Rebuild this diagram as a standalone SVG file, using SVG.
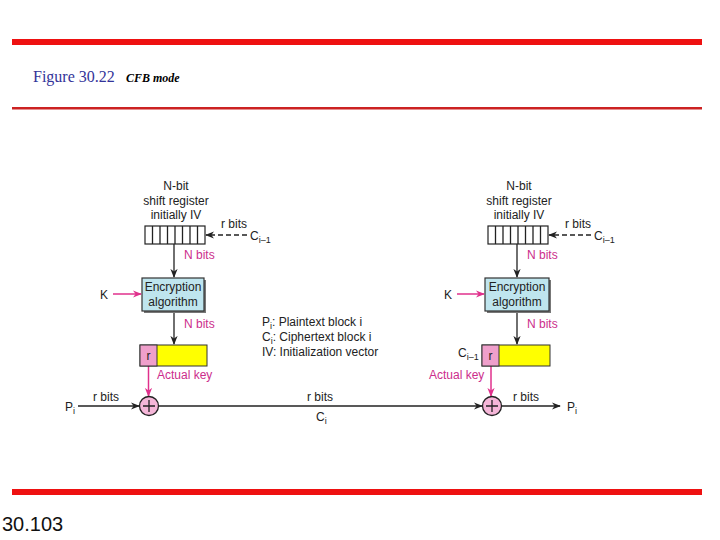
<svg xmlns="http://www.w3.org/2000/svg" width="720" height="540" viewBox="0 0 720 540">
<defs>
<style>
.t{font-family:"Liberation Sans",Arial,sans-serif;font-size:12px;fill:#222}
.m{font-family:"Liberation Sans",Arial,sans-serif;font-size:12px;fill:#cc2d8c}
.c{text-anchor:middle}
.ln{stroke:#222;stroke-width:1.3;fill:none}
.mg{stroke:#e0308c;stroke-width:1.5;fill:none}
.enc{fill:#bfe5ee;stroke:#333;stroke-width:1.2}
.reg{fill:#fff;stroke:#222;stroke-width:1.2}
.yel{fill:#ffff00;stroke:#333;stroke-width:1}
.pk{fill:#ef9fcb;stroke:#333;stroke-width:1}
.xor{fill:#f5b6d8;stroke:#222;stroke-width:1.3}
</style>
<marker id="ab" viewBox="0 0 10 10" refX="9" refY="5" markerWidth="9" markerHeight="9" markerUnits="userSpaceOnUse" orient="auto"><path d="M0,1 L10,5 L0,9 L3,5 z" fill="#222"/></marker>
<marker id="am" viewBox="0 0 10 10" refX="9" refY="5" markerWidth="9" markerHeight="9" markerUnits="userSpaceOnUse" orient="auto"><path d="M0,1 L10,5 L0,9 L3,5 z" fill="#e0308c"/></marker>
</defs>
<rect width="720" height="540" fill="#fff"/>
<g id="frame">
<rect x="12" y="39" width="690" height="6" fill="#ee1111"/>
<rect x="12" y="107" width="690" height="2.5" fill="#cc2222"/>
<rect x="12" y="489" width="690" height="6" fill="#ee1111"/>
<text x="33" y="82" font-family="Liberation Serif,serif" font-size="16" fill="#333399">Figure 30.22</text>
<text x="126" y="82" font-family="Liberation Serif,serif" font-size="12" font-weight="bold" font-style="italic" fill="#000">CFB mode</text>
<text x="2" y="531" font-family="Liberation Sans,Arial,sans-serif" font-size="20" fill="#111">30.103</text>
</g>
<g id="connectors">
<!-- left -->
<line class="ln" x1="247" y1="235" x2="206" y2="235" stroke-dasharray="5,3" marker-end="url(#ab)"/>
<line class="ln" x1="174" y1="244" x2="174" y2="277" marker-end="url(#ab)"/>
<line class="mg" x1="113" y1="294" x2="141" y2="294" marker-end="url(#am)"/>
<line class="ln" x1="174" y1="311" x2="174" y2="344" marker-end="url(#ab)"/>
<line class="mg" x1="148.5" y1="366" x2="148.5" y2="396" marker-end="url(#am)"/>
<line class="ln" x1="78" y1="406" x2="139" y2="406" marker-end="url(#ab)"/>
<line class="ln" x1="158" y1="406" x2="482" y2="406" marker-end="url(#ab)"/>
<!-- right -->
<line class="ln" x1="591" y1="235" x2="549" y2="235" stroke-dasharray="5,3" marker-end="url(#ab)"/>
<line class="ln" x1="517" y1="244" x2="517" y2="277" marker-end="url(#ab)"/>
<line class="mg" x1="457" y1="294" x2="484" y2="294" marker-end="url(#am)"/>
<line class="ln" x1="517" y1="311" x2="517" y2="344" marker-end="url(#ab)"/>
<line class="mg" x1="491" y1="366" x2="491" y2="396" marker-end="url(#am)"/>
<line class="ln" x1="501" y1="406" x2="560" y2="406" marker-end="url(#ab)"/>
</g>
<g id="left-register">
<text class="t c" x="176" y="190">N-bit</text>
<text class="t c" x="176" y="205">shift register</text>
<text class="t c" x="176" y="219">initially IV</text>
<rect class="reg" x="145" y="226" width="60" height="18"/>
<path class="ln" d="M152.5,226v18M160,226v18M167.5,226v18M175,226v18M182.5,226v18M190,226v18M197.5,226v18"/>
<text class="t" x="221" y="228">r bits</text>
<text class="t" x="250" y="240">C<tspan font-size="9" dy="3">i–1</tspan></text>
<text class="m" x="184" y="259">N bits</text>
</g>
<g id="left-encryption">
<rect x="144" y="280" width="62" height="33" fill="#777"/>
<rect class="enc" x="142" y="278" width="62" height="33"/>
<text class="t c" x="173" y="291">Encryption</text>
<text class="t c" x="173" y="306">algorithm</text>
<text class="t" x="100" y="299">K</text>
<text class="m" x="184" y="328">N bits</text>
</g>
<g id="left-keybox">
<rect class="yel" x="140" y="345" width="67" height="21"/>
<rect class="pk" x="140" y="345" width="17" height="21"/>
<text class="t c" x="148.5" y="360">r</text>
<text class="m" x="157" y="379">Actual key</text>
</g>
<g id="left-xor">
<circle class="xor" cx="149" cy="406" r="9.5"/>
<path class="ln" d="M143,406h12M149,400v12"/>
<text class="t" x="65" y="411">P<tspan font-size="9" dy="3">i</tspan></text>
<text class="t" x="93" y="401">r bits</text>
</g>
<g id="legend">
<text class="t" x="262" y="326">P<tspan font-size="9" dy="3">i</tspan><tspan dy="-3">: Plaintext block i</tspan></text>
<text class="t" x="262" y="341">C<tspan font-size="9" dy="3">i</tspan><tspan dy="-3">: Ciphertext block i</tspan></text>
<text class="t" x="262" y="356">IV: Initialization vector</text>
</g>
<g id="channel-label">
<text class="t c" x="320" y="401">r bits</text>
<text class="t" x="316" y="421">C<tspan font-size="9" dy="3">i</tspan></text>
</g>
<g id="right-register">
<text class="t c" x="519" y="190">N-bit</text>
<text class="t c" x="519" y="205">shift register</text>
<text class="t c" x="519" y="219">initially IV</text>
<rect class="reg" x="488" y="226" width="60" height="18"/>
<path class="ln" d="M495.5,226v18M503,226v18M510.5,226v18M518,226v18M525.5,226v18M533,226v18M540.5,226v18"/>
<text class="t" x="565" y="228">r bits</text>
<text class="t" x="594" y="240">C<tspan font-size="9" dy="3">i–1</tspan></text>
<text class="m" x="527" y="259">N bits</text>
</g>
<g id="right-encryption">
<rect x="487" y="280" width="64" height="33" fill="#777"/>
<rect class="enc" x="485" y="278" width="64" height="33"/>
<text class="t c" x="517" y="291">Encryption</text>
<text class="t c" x="517" y="306">algorithm</text>
<text class="t" x="444" y="299">K</text>
<text class="m" x="527" y="328">N bits</text>
</g>
<g id="right-keybox">
<rect class="yel" x="482" y="345" width="68" height="21"/>
<rect class="pk" x="482" y="345" width="17" height="21"/>
<text class="t c" x="490.5" y="360">r</text>
<text class="t" x="458" y="357">C<tspan font-size="9" dy="3">i–1</tspan></text>
<text class="m" x="429" y="379">Actual key</text>
</g>
<g id="right-xor">
<circle class="xor" cx="492" cy="406" r="9.5"/>
<path class="ln" d="M486,406h12M492,400v12"/>
<text class="t" x="513" y="401">r bits</text>
<text class="t" x="567" y="411">P<tspan font-size="9" dy="3">i</tspan></text>
</g>
</svg>
